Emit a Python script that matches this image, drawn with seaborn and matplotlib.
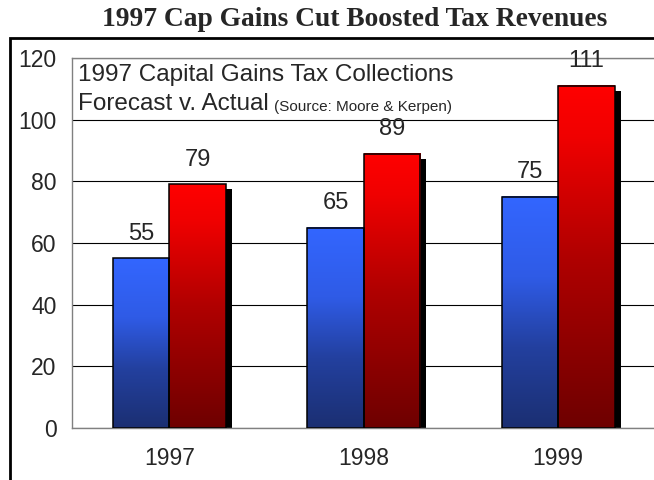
import matplotlib
matplotlib.use("Agg")
import matplotlib.pyplot as plt
import numpy as np
import pandas as pd
import seaborn as sns
from matplotlib.colors import LinearSegmentedColormap
from matplotlib.patches import Rectangle

# Data
years = ["1997", "1998", "1999"]
forecast = [55, 65, 75]
actual = [79, 89, 111]
series_names = ["Forecast", "Actual"]

title = "1997 Cap Gains Cut Boosted Tax Revenues"
box_line1 = "1997 Capital Gains Tax Collections"
box_line2 = "Forecast v. Actual"
box_source = "(Source: Moore & Kerpen)"

sns.set_style("white")
plt.rcParams["font.family"] = ["Liberation Sans", "DejaVu Sans"]

df = pd.DataFrame({
    "year": years * 2,
    "value": forecast + actual,
    "series": [series_names[0]] * len(years) + [series_names[1]] * len(years),
})

W, H = 654, 480
fig = plt.figure(figsize=(W / 100, H / 100), dpi=100)
ax = fig.add_axes([72 / W, 52 / H, 583.5 / W, 370 / H])

sns.barplot(data=df, x="year", y="value", hue="series", hue_order=series_names,
            width=0.58, legend=False, ax=ax, zorder=3,
            facecolor="none", edgecolor="black", linewidth=1.1)

blue_cmap = LinearSegmentedColormap.from_list(
    "blue", [(0, "#1B2F72"), (0.35, "#23409F"), (0.65, "#2F5BE6"), (1.0, "#3366FF")])
red_cmap = LinearSegmentedColormap.from_list(
    "red", [(0, "#6E0000"), (0.5, "#B00000"), (0.85, "#F00000"), (1.0, "#FF0000")])
grad = np.linspace(0, 1, 256).reshape(-1, 1)

# shadow offset: ~6px right, ~5px down
dx = 6 / 194.5
dy = 5 / (370 / 120)

for cont, cmap in zip(ax.containers, [blue_cmap, red_cmap]):
    for bar in cont:
        x0, w, h = bar.get_x(), bar.get_width(), bar.get_height()
        ax.add_patch(Rectangle((x0 + dx, 0), w, h - dy, facecolor="black",
                               edgecolor="none", zorder=1.5))
        ax.imshow(grad, origin="lower", extent=[x0, x0 + w, 0, h], cmap=cmap,
                  aspect="auto", zorder=2, interpolation="bilinear")
    ax.bar_label(cont, padding=10, fontsize=17)

ax.set_xlim(-0.5, 2.5)
ax.set_ylim(0, 120)
ax.set_yticks(range(0, 121, 20))
ax.set_xticks([-0.5, 0.5, 1.5], minor=True)
ax.tick_params(axis="x", which="major", length=0, labelsize=16.5, pad=14)
ax.tick_params(axis="x", which="minor", length=5, width=1, color="#808080", direction="out")
ax.tick_params(axis="y", length=6, width=1, color="#808080", direction="out",
               labelsize=16.5, pad=5)
ax.set_xlabel("")
ax.set_ylabel("")

ax.grid(axis="y", color="black", linewidth=0.8)
ax.set_axisbelow(True)
for side in ["left", "top", "bottom", "right"]:
    ax.spines[side].set_color("#808080")
    ax.spines[side].set_linewidth(1.0)

# text box in the upper left
fig.text(78 / W, 1 - 75 / H, box_line1, fontsize=17.5, va="center", ha="left")
t2 = fig.text(78 / W, 1 - 104 / H, box_line2, fontsize=17.5, va="center", ha="left")
ax.annotate(box_source, xy=(1, 0), xycoords=t2, xytext=(4, 1),
            textcoords="offset points", fontsize=11, va="bottom", ha="left")

fig.text(355 / W, 1 - 20 / H, title, fontsize=19.8, fontweight="bold", ha="center",
         va="center", family=["Liberation Serif", "DejaVu Serif"])

# outer frame
fig.add_artist(Rectangle((10 / W, -0.1), 1.2, 1.1 - 38 / H, transform=fig.transFigure,
                         fill=False, edgecolor="black", linewidth=2))

fig.savefig("out.png", dpi=100)
